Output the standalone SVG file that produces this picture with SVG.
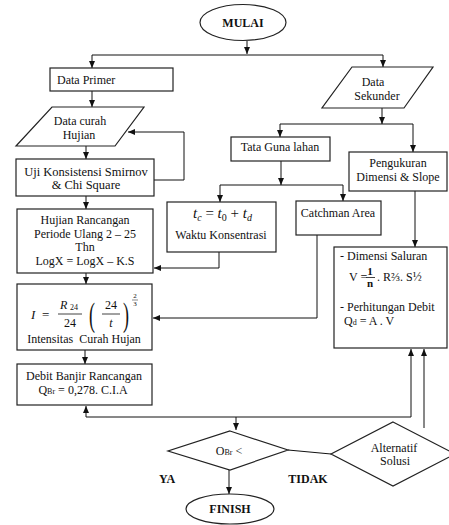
<svg xmlns="http://www.w3.org/2000/svg" width="449" height="525" viewBox="0 0 449 525">
<defs>
<marker id="ah" markerWidth="7" markerHeight="6" refX="7" refY="3" orient="auto" markerUnits="userSpaceOnUse">
<path d="M0,0 L7,3 L0,6 z" fill="#111"/>
</marker>
<style>
.s{fill:#fff;stroke:#222;stroke-width:1.2}
.t{font-family:"Liberation Serif","Times New Roman",serif;font-size:12px;fill:#111}
.c{text-anchor:middle}
.b{font-weight:bold}
.i{font-style:italic}
.ln{fill:none;stroke:#111;stroke-width:1}
.a{marker-end:url(#ah)}
</style>
</defs>
<rect width="449" height="525" fill="#fff"/>

<g id="connectors">
<path class="ln a" d="M247,41 V54"/>
<path class="ln" d="M92,55 H383"/>
<path class="ln a" d="M92,55 V68"/>
<path class="ln a" d="M383,55 V67"/>
<path class="ln a" d="M92,91 V107"/>
<path class="ln a" d="M86,146 V159"/>
<path class="ln a" d="M154,180 H184 V132 H128"/>
<path class="ln a" d="M86,196 V209"/>
<path class="ln a" d="M382,108 V124"/>
<path class="ln" d="M280,124 H413"/>
<path class="ln a" d="M280,124 V137"/>
<path class="ln a" d="M413,124 V152"/>
<path class="ln a" d="M281,161 V185"/>
<path class="ln" d="M220,185 H343"/>
<path class="ln a" d="M220,185 V202"/>
<path class="ln a" d="M343,185 V201"/>
<path class="ln a" d="M219,252 V268 H154"/>
<path class="ln a" d="M317,235 V318 H153"/>
<path class="ln a" d="M415,191 V247"/>
<path class="ln a" d="M86,273 V284"/>
<path class="ln a" d="M85,350 V364"/>
<path class="ln a" d="M411,417 H86 V406"/>
<path class="ln a" d="M411,417 V349"/>
<path class="ln a" d="M236,417 V430"/>
<path class="ln a" d="M424,428 V349"/>
<path class="ln" d="M288,450 L331,454"/>
<path class="ln a" d="M229,470 V494"/>
</g>

<g id="mulai">
<ellipse class="s" cx="243" cy="22.5" rx="43" ry="18"/>
<text class="t c b" x="243" y="27">MULAI</text>
</g>

<g id="data-primer">
<rect class="s" x="50" y="68" width="123" height="23"/>
<text class="t" x="57" y="84">Data Primer</text>
</g>

<g id="data-curah">
<polygon class="s" points="52,107 144,107 115,146 16,146"/>
<text class="t c" x="80" y="125">Data curah</text>
<text class="t c" x="79" y="139">Hujian</text>
</g>

<g id="uji">
<rect class="s" x="16" y="159" width="138" height="37"/>
<text class="t c" x="86" y="176" style="font-size:12.5px">Uji Konsistensi Smirnov</text>
<text class="t c" x="86" y="189" style="font-size:12.5px">&amp; Chi Square</text>
</g>

<g id="hujian-rancangan">
<rect class="s" x="17" y="209" width="136" height="64"/>
<text class="t c" x="85" y="224">Hujian Rancangan</text>
<text class="t c" x="85" y="238">Periode Ulang 2 – 25</text>
<text class="t c" x="85" y="251">Thn</text>
<text class="t c" x="85" y="265">LogX = LogX – K.S</text>
</g>

<g id="intensitas">
<rect class="s" x="17" y="284" width="135" height="66"/>
<text class="t i" x="31" y="319" style="font-size:13px">I</text>
<text class="t" x="42" y="319" style="font-size:13px">=</text>
<text class="t i" x="60" y="309" style="font-size:12px">R</text>
<text class="t" x="70" y="310" style="font-size:8px">24</text>
<line x1="58" y1="314" x2="82" y2="314" stroke="#111" stroke-width="0.8"/>
<text class="t c" x="70" y="327" style="font-size:12px">24</text>
<text class="t" transform="translate(89,326) scale(1,1.9)" style="font-size:18px">(</text>
<text class="t c" x="111" y="309" style="font-size:12px">24</text>
<line x1="102" y1="314" x2="120" y2="314" stroke="#111" stroke-width="0.8"/>
<text class="t c i" x="111" y="327" style="font-size:12px">t</text>
<text class="t" transform="translate(123,326) scale(1,1.9)" style="font-size:18px">)</text>
<text class="t c" x="135" y="298" style="font-size:7px">2</text>
<line x1="132" y1="300" x2="138" y2="300" stroke="#111" stroke-width="0.5"/>
<text class="t c" x="135" y="306" style="font-size:7px">3</text>
<text class="t c" x="84" y="343">Intensitas&#160; Curah Hujan</text>
</g>

<g id="debit-banjir">
<rect class="s" x="17" y="364" width="135" height="41"/>
<text class="t c" x="84" y="380">Debit Banjir Rancangan</text>
<text class="t c" x="83" y="394">Q<tspan style="font-size:8px">Br</tspan> = 0,278. C.I.A</text>
</g>

<g id="data-sekunder">
<polygon class="s" points="352,67 433,67 404,108 322,108"/>
<text class="t c" x="373" y="86">Data</text>
<text class="t c" x="377" y="100">Sekunder</text>
</g>

<g id="tata-guna">
<rect class="s" x="231" y="137" width="99" height="24"/>
<text class="t c" x="280" y="151">Tata Guna lahan</text>
</g>

<g id="pengukuran">
<rect class="s" x="349" y="152" width="98" height="39"/>
<text class="t c" x="398" y="167">Pengukuran</text>
<text class="t c" x="398" y="181">Dimensi &amp; Slope</text>
</g>

<g id="waktu">
<rect class="s" x="167" y="202" width="109" height="50"/>
<text class="t" x="193" y="218" style="font-size:15px"><tspan class="i">t</tspan><tspan dy="3" class="i" style="font-size:10px">c</tspan><tspan dy="-3"> = </tspan><tspan class="i">t</tspan><tspan dy="3" style="font-size:10px">0</tspan><tspan dy="-3"> + </tspan><tspan class="i">t</tspan><tspan dy="3" class="i" style="font-size:10px">d</tspan></text>
<text class="t c" x="221" y="239">Waktu Konsentrasi</text>
</g>

<g id="catchman">
<rect class="s" x="296" y="201" width="85" height="34"/>
<text class="t c" x="338" y="217">Catchman Area</text>
</g>

<g id="dimensi">
<rect class="s" x="334" y="247" width="113" height="101"/>
<text class="t" x="340" y="260">- Dimensi Saluran</text>
<text class="t" x="349" y="281">V =</text>
<text class="t c b" x="370" y="275" style="font-size:11px">1</text>
<line x1="366" y1="277.5" x2="375" y2="277.5" stroke="#111" stroke-width="0.8"/>
<text class="t c b" x="370" y="287" style="font-size:11px">n</text>
<text class="t" x="377" y="281">. R⅔. S½</text>
<text class="t" x="340" y="311">- Perhitungan Debit</text>
<text class="t" x="344" y="325">Q<tspan style="font-size:8px">d</tspan> = A . V</text>
</g>

<g id="obr">
<polygon class="s" points="230,431 288,450 230,470 168,451"/>
<text class="t c" x="229" y="455">O<tspan style="font-size:8px">Br</tspan> &lt;</text>
</g>

<g id="alternatif">
<polygon class="s" points="393,422 455,454 393,486 331,454"/>
<text class="t c" x="394" y="452">Alternatif</text>
<text class="t c" x="395" y="465">Solusi</text>
</g>

<g id="labels">
<text class="t c b" x="167" y="483">YA</text>
<text class="t c b" x="308" y="483">TIDAK</text>
</g>

<g id="finish">
<ellipse class="s" cx="230" cy="509" rx="44" ry="15"/>
<text class="t c b" x="230" y="513">FINISH</text>
</g>
</svg>
